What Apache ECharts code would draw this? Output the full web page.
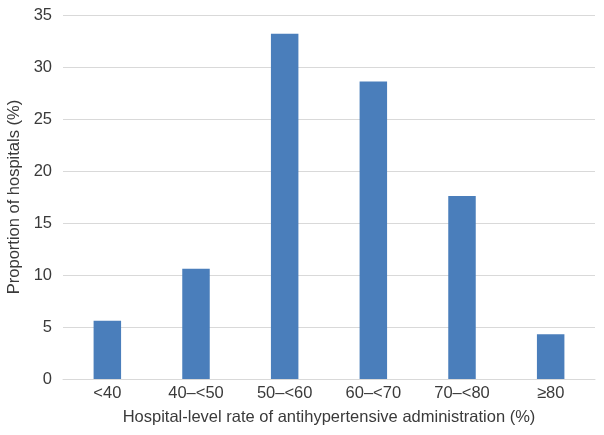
<!DOCTYPE html>
<html><head><meta charset="utf-8">
<script src="https://cdn.jsdelivr.net/npm/echarts@6/dist/echarts.min.js"></script>
<style>html,body{margin:0;padding:0;background:#fff}#c{width:604px;height:435px}</style>
</head><body><div id="c"></div>
<script>
const categories = ['<40', '40–<50', '50–<60', '60–<70', '70–<80', '≥80'];
const values = [5.6, 10.6, 33.2, 28.6, 17.6, 4.3];
const yTicks = [0, 5, 10, 15, 20, 25, 30, 35];

const chart = echarts.init(document.getElementById('c'));
const font = 'Liberation Sans, Arial, sans-serif';
chart.setOption({
  animation: false,
  grid: { left: 63, right: 9, top: 15, bottom: 56, outerBoundsMode: 'none', containLabel: false },
  xAxis: {
    type: 'category', data: categories,
    axisLine: { show: true, lineStyle: { color: '#d9d9d9', width: 1 } },
    axisTick: { show: false },
    axisLabel: { color: '#3a3a3a', fontSize: 16.5, fontFamily: font, margin: 6 },
    name: 'Hospital-level rate of antihypertensive administration (%)',
    nameLocation: 'middle', nameGap: 30,
    nameTextStyle: { color: '#3a3a3a', fontSize: 16.5, fontFamily: font }
  },
  yAxis: {
    type: 'value', min: 0, max: 35, interval: 5,
    axisLine: { show: false }, axisTick: { show: false },
    splitLine: { lineStyle: { color: '#d9d9d9', width: 1 } },
    axisLabel: { color: '#3a3a3a', fontSize: 16.5, fontFamily: font, margin: 11,
      formatter: v => yTicks.includes(v) ? String(v) : '' },
    name: 'Proportion of hospitals (%)',
    nameLocation: 'middle', nameGap: 40, nameRotate: 90,
    nameTextStyle: { color: '#3a3a3a', fontSize: 16.5, fontFamily: font }
  },
  series: [{
    type: 'bar', data: values, barWidth: '31%',
    itemStyle: { color: '#4a7ebb' }
  }]
});
</script></body></html>
